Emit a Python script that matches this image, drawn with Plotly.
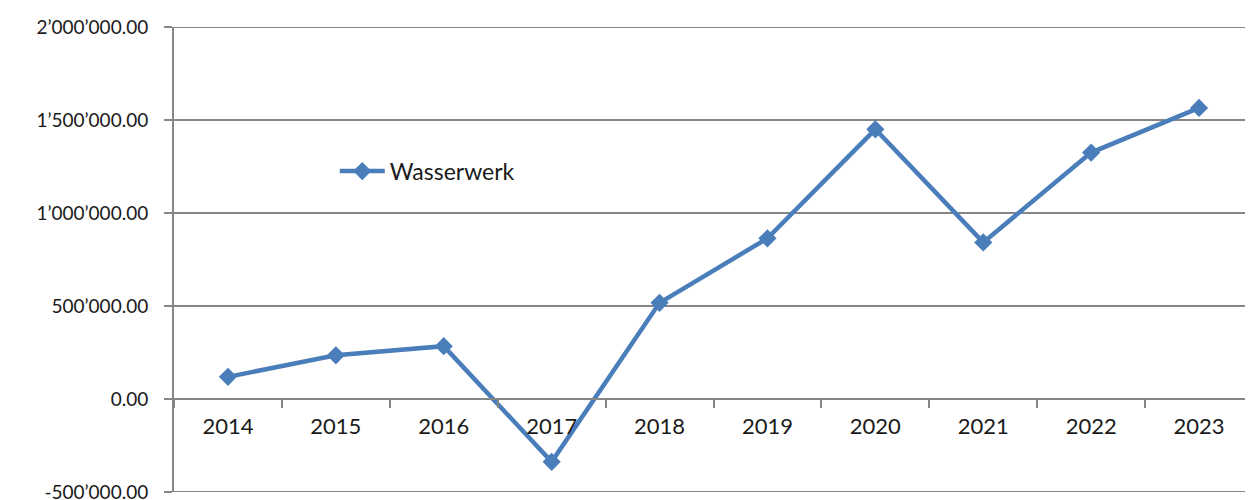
import plotly.graph_objects as go

years = ["2014", "2015", "2016", "2017", "2018", "2019", "2020", "2021", "2022", "2023"]
wasserwerk = [119000, 235000, 284000, -338000, 517000, 864000, 1450000, 842000, 1325000, 1565000]
y_tickvals = [-500000, 0, 500000, 1000000, 1500000, 2000000]
y_ticktext = ["-500’000.00", "0.00", "500’000.00", "1’000’000.00", "1’500’000.00", "2’000’000.00"]

ymin, ymax = -500000, 2000000
zero_pos = (0 - ymin) / (ymax - ymin)

fig = go.Figure()
fig.add_trace(go.Scatter(
    x=years, y=wasserwerk, mode="lines+markers", name="Wasserwerk",
    line=dict(color="#4A7EBB", width=4.5),
    marker=dict(symbol="diamond", size=14, color="#4A7EBB"),
))

# edge gridlines (plotly drops gridlines at the range ends)
for yv in (ymin, ymax):
    fig.add_shape(type="line", xref="paper", yref="y", x0=0, x1=1, y0=yv, y1=yv,
                  line=dict(color="#868686", width=2), layer="below")

fig.update_layout(
    width=1245, height=492,
    margin=dict(l=166, r=0, t=19, b=8, autoexpand=False),
    paper_bgcolor="white", plot_bgcolor="white",
    font=dict(family="Lato, Carlito, Liberation Sans", size=21, color="#1a1a1a"),
    showlegend=True,
    legend=dict(x=0.149, y=0.69, xanchor="left", yanchor="middle",
                bgcolor="rgba(0,0,0,0)", font=dict(size=23), itemwidth=45),
    xaxis=dict(
        type="category", anchor="free", position=zero_pos, automargin=False,
        showline=True, linecolor="#868686", linewidth=2,
        ticks="outside", tickson="boundaries", ticklen=8, tickcolor="#868686", tickwidth=2,
        showgrid=False, zeroline=False, range=[-0.5, 9.5],
        tickfont=dict(size=22), ticklabelstandoff=8,
    ),
    yaxis=dict(
        range=[ymin, ymax], tickvals=y_tickvals, ticktext=y_ticktext, automargin=False,
        showline=True, linecolor="#868686", linewidth=2,
        ticks="outside", ticklen=8, tickcolor="#868686", tickwidth=2,
        showgrid=True, gridcolor="#868686", gridwidth=2, zeroline=False,
        ticklabelstandoff=12, ticklabeloverflow="allow", tickfont=dict(size=19),
    ),
)

fig.write_html("out.html")
